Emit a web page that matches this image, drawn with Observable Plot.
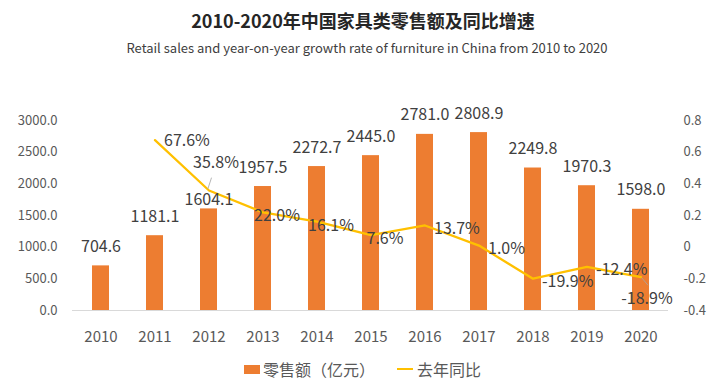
<!DOCTYPE html>
<html><head><meta charset="utf-8">
<script src="https://cdn.jsdelivr.net/npm/d3@7"></script>
<script src="https://cdn.jsdelivr.net/npm/@observablehq/plot@0.6"></script>
<style>
body{margin:0;background:#fff;font-family:"Noto Sans CJK SC","Noto Sans",sans-serif;}
#wrap{position:relative;width:726px;height:386px;overflow:hidden;}
#title{position:absolute;left:0;width:726px;top:6px;height:28px;line-height:28px;text-align:center;font-size:18px;font-weight:bold;color:#262626;}
#subtitle{position:absolute;left:4px;width:726px;top:37px;height:22px;line-height:22px;text-align:center;font-size:13px;color:#404040;}
#chart{position:absolute;left:0;top:70px;}
#legend{position:absolute;left:0;top:357px;width:726px;height:24px;font-size:16px;color:#595959;}
.lg{position:absolute;top:0;line-height:24px;}
</style></head>
<body><div id="wrap">
<div id="title">2010-2020年中国家具类零售额及同比增速</div>
<div id="subtitle">Retail sales and year-on-year growth rate of furniture in China from 2010 to 2020</div>
<div id="chart"></div>
<div id="legend">
  <div style="position:absolute;left:244px;top:8px;width:16px;height:9px;background:#ED7D31"></div>
  <div class="lg" style="left:263px">零售额（亿元）</div>
  <div style="position:absolute;left:397px;top:11px;width:16px;height:2px;background:#FFC000"></div>
  <div class="lg" style="left:417px">去年同比</div>
</div>
</div>
<script>
const years = [2010, 2011, 2012, 2013, 2014, 2015, 2016, 2017, 2018, 2019, 2020];
const sales = [704.6, 1181.1, 1604.1, 1957.5, 2272.7, 2445.0, 2781.0, 2808.9, 2249.8, 1970.3, 1598.0];
const growthYears = [2011, 2012, 2013, 2014, 2015, 2016, 2017, 2018, 2019, 2020];
const growth = [67.6, 35.8, 22.0, 16.1, 7.6, 13.7, 1.0, -19.9, -12.4, -18.9];
const leftTicks = [0, 500, 1000, 1500, 2000, 2500, 3000];
const rightTicks = [-0.4, -0.2, 0, 0.2, 0.4, 0.6, 0.8];

const salesData = years.map((y, i) => ({year: String(y), v: sales[i]}));
const growthData = growthYears.map((y, i) => ({year: String(y), g: growth[i]}));
// map right-axis ratio onto left-axis units
const toLeft = r => (r + 0.4) / 1.2 * 3000;
const gy = d => toLeft(d.g / 100);
const gtxt = d => d.g.toFixed(1) + "%";

const font = '"Noto Sans CJK SC", "Noto Sans", sans-serif';
const leader = {draw(ctx, l) { ctx.moveTo(0, 0); ctx.lineTo(0, -l); }};

const plot = Plot.plot({
  width: 726, height: 280,
  marginLeft: 72, marginRight: 58, marginTop: 50, marginBottom: 40,
  style: {fontFamily: font, background: "transparent"},
  x: {domain: years.map(String), paddingInner: 0.69, paddingOuter: 0.345, label: null},
  y: {domain: [0, 3000], label: null},
  marks: [
    Plot.axisY(leftTicks, {tickSize: 0, tickPadding: 15, tickFormat: d => d.toFixed(1), fontSize: 13, color: "#595959", label: null}),
    Plot.axisX({tickSize: 0, tickPadding: 21, fontSize: 15, color: "#595959", label: null}),
    Plot.barY(salesData, {x: "year", y: "v", fill: "#ED7D31"}),
    Plot.ruleY([0], {stroke: "#D9D9D9", strokeWidth: 1}),
    Plot.text(rightTicks, {y: d => toLeft(d), text: d => String(d).replace("−", "-"), frameAnchor: "right", textAnchor: "start", dx: 15, fontSize: 13, fill: "#595959"}),
    Plot.line(growthData, {x: "year", y: gy, stroke: "#FFC000", strokeWidth: 2.25, strokeLinejoin: "round"}),
    // bar value labels
    Plot.text(salesData.filter(d => d.year !== "2012"), {x: "year", y: "v", text: d => d.v.toFixed(1), dy: -19, fontSize: 16, fill: "#404040"}),
    Plot.text(salesData.filter(d => d.year === "2012"), {x: "year", y: "v", text: d => d.v.toFixed(1), dy: -9, fontSize: 16, fill: "#404040"}),
    // growth labels
    Plot.text(growthData.filter(d => d.year === "2011"), {x: "year", y: gy, text: gtxt, textAnchor: "start", dx: 9, dy: 1, fontSize: 16, fill: "#404040"}),
    Plot.text(growthData.filter(d => ["2016","2017","2018","2019"].includes(d.year)), {x: "year", y: gy, text: gtxt, textAnchor: "start", dx: 9, dy: 3, fontSize: 16, fill: "#404040"}),
    Plot.text(growthData.filter(d => ["2013","2014","2015"].includes(d.year)), {x: "year", y: gy, text: gtxt, dx: 14, dy: 4, fontSize: 16, fill: "#404040"}),
    Plot.text(growthData.filter(d => d.year === "2012"), {x: "year", y: gy, text: gtxt, dx: 7, dy: -28, fontSize: 16, fill: "#404040"}),
    Plot.text(growthData.filter(d => d.year === "2020"), {x: "year", y: gy, text: gtxt, dx: 6, dy: 22, fontSize: 16, fill: "#404040"}),
    Plot.vector(growthData.filter(d => d.year === "2012"), {x: "year", y: gy, length: 11, rotate: 18, anchor: "start", dx: -1, dy: -2, shape: leader, stroke: "#A6A6A6", strokeWidth: 0.75}),
    Plot.vector(growthData.filter(d => d.year === "2020"), {x: "year", y: gy, length: 9, rotate: 140, anchor: "start", dx: 1, dy: 1, shape: leader, stroke: "#A6A6A6", strokeWidth: 0.75})
  ]
});
document.getElementById("chart").appendChild(plot);
</script>
</body></html>
